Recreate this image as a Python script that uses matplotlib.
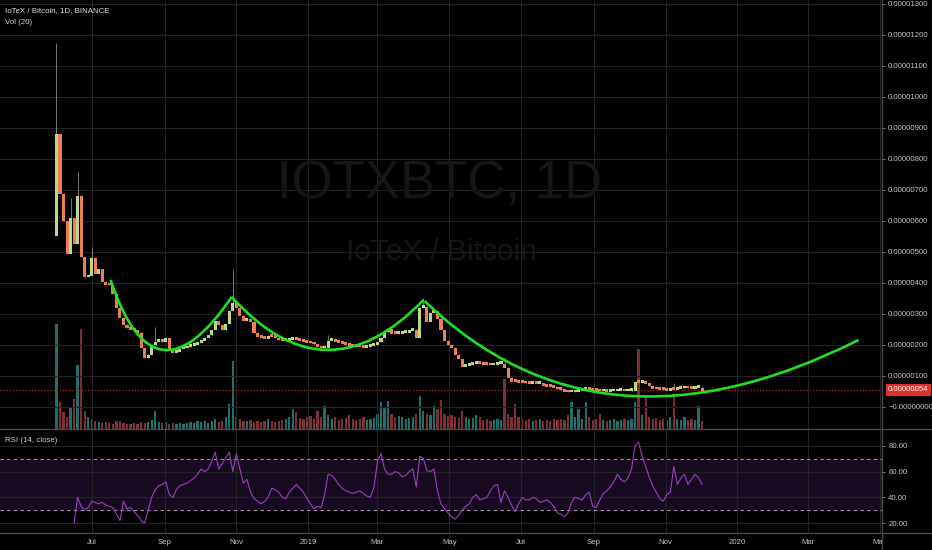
import matplotlib
matplotlib.use("Agg")
import numpy as np
import pandas as pd
import matplotlib.pyplot as plt
import matplotlib.dates as mdates
from matplotlib.path import Path
from matplotlib.patches import PathPatch
from matplotlib.lines import Line2D
from matplotlib.transforms import Bbox, TransformedBbox

plt.rcParams['font.family'] = ['Liberation Sans', 'DejaVu Sans']

# --- data: IOTX/BTC, 3-day buckets starting 2018-06-01, prices in satoshi ---
start_date = '2018-06-01'
first_open = 554
close = [882, 688, 600, 495, 610, 527, 683, 484, 419, 425,
         483, 430, 445, 405, 396, 393, 366, 320, 288, 266,
         255, 250, 247, 240, 190, 158, 170, 200, 212, 212,
         210, 224, 185, 175, 180, 188, 190, 194, 197, 202,
         208, 215, 224, 232, 250, 278, 265, 248, 270, 310,
         335, 320, 295, 280, 285, 275, 240, 228, 224, 221,
         230, 228, 224, 216, 214, 215, 218, 221, 217, 214,
         211, 209, 206, 203, 196, 190, 192, 215, 221, 212,
         208, 205, 201, 198, 196, 194, 193, 192, 194, 197,
         202, 210, 225, 242, 252, 238, 236, 237, 239, 240,
         246, 250, 225, 320, 325, 275, 305, 310, 285, 250,
         215, 200, 192, 170, 155, 130, 134, 136, 140, 143,
         141, 138, 136, 135, 136, 139, 140, 128, 96, 82,
         81, 80, 79, 77, 76, 76, 75, 75, 70, 67,
         65, 62, 58, 55, 50, 48, 48, 50, 54, 56,
         57, 55, 54, 52, 51, 51, 50, 51, 51, 52,
         52, 51, 52, 53, 82, 78, 85, 76, 68, 60,
         58, 57, 55, 54, 59, 56, 60, 61, 63, 61,
         60, 62, 63, 54]

spike_idx = [0, 4, 6, 10, 28, 50, 77, 104, 127, 165, 175]
spike_high = [1174, 673, 758, 516, 258, 441, 231, 350, 157, 90, 76]

volume = [105, 27, 17, 12, 22, 30, 64, 100, 18, 12,
          10, 8, 7, 6, 7, 6, 5, 8, 8, 6,
          5, 5, 6, 5, 7, 6, 7, 9, 18, 7,
          6, 7, 5, 6, 5, 6, 5, 6, 7, 6,
          8, 7, 8, 6, 8, 10, 7, 8, 12, 25,
          68, 12, 10, 8, 8, 9, 7, 8, 7, 8,
          10, 8, 7, 8, 9, 10, 12, 20, 17, 11,
          10, 12, 13, 10, 18, 12, 23, 14, 10, 12,
          9, 10, 11, 14, 10, 9, 10, 12, 9, 10,
          11, 15, 27, 22, 28, 15, 12, 13, 12, 10,
          11, 12, 15, 33, 18, 15, 14, 23, 20, 29,
          15, 13, 14, 12, 11, 18, 12, 10, 11, 14,
          12, 9, 10, 8, 9, 10, 9, 50, 15, 12,
          25, 12, 10, 9, 10, 8, 9, 10, 8, 9,
          8, 10, 9, 10, 9, 14, 27, 12, 20, 10,
          27, 12, 9, 10, 15, 9, 8, 9, 10, 8,
          9, 10, 9, 10, 27, 80, 14, 33, 12, 10,
          11, 9, 10, 9, 12, 35, 10, 9, 12, 9,
          10, 9, 23, 8]

rsi_offset = 5
rsi = [20, 40, 33, 30, 32, 37, 36, 35, 36, 34,
       33, 32, 27, 22, 37, 31, 32, 29, 26, 22,
       20, 30, 40, 46, 49, 50, 52, 42, 40, 46,
       49, 50, 51, 53, 55, 58, 62, 60, 62, 68,
       75, 62, 66, 71, 75, 60, 74, 62, 51, 54,
       44, 39, 37, 35, 37, 40, 47, 46, 44, 40,
       39, 44, 47, 50, 47, 44, 39, 35, 31, 33,
       32, 42, 58, 57, 54, 50, 47, 45, 44, 43,
       44, 45, 43, 41, 40, 48, 68, 74, 62, 58,
       58, 60, 59, 56, 57, 60, 62, 48, 72, 70,
       61, 60, 62, 45, 35, 31, 28, 25, 23, 26,
       30, 33, 35, 40, 42, 38, 39, 40, 45, 49,
       50, 36, 45, 40, 34, 29, 35, 40, 38, 38,
       40, 39, 36, 37, 38, 36, 33, 28, 27, 25,
       28, 36, 40, 39, 38, 42, 44, 33, 32, 38,
       43, 45, 48, 52, 58, 54, 52, 55, 62, 80,
       83, 72, 64, 56, 49, 44, 39, 37, 42, 44,
       64, 50, 55, 58, 50, 54, 58, 55, 50]

# drawn arcs: start, control, end (date, satoshi)
arc_start = [('2018-07-17', 409), ('2018-10-28', 354), ('2019-04-10', 341)]
arc_ctrl = [('2018-08-23', -15), ('2019-01-16', 17), ('2019-09-06', -204)]
arc_end = [('2018-10-28', 354), ('2019-04-09', 344), ('2020-04-13', 215)]

last_price = 54
price_ticks = list(range(0, 1400, 100))
rsi_ticks = [20, 40, 60, 80]

# --- build candles ---
dates = pd.date_range(start=start_date, periods=len(close), freq='3D')
x = mdates.date2num(dates.to_pydatetime())
opens = [first_open] + close[:-1]
body_top = [max(o, c) for o, c in zip(opens, close)]
body_bot = [min(o, c) for o, c in zip(opens, close)]
highs = list(body_top)
for i, h in zip(spike_idx, spike_high):
    highs[i] = h
up = [c >= o for o, c in zip(opens, close)]

BG = '#000000'
GRID = '#232323'
TXT = '#c4c4c4'
UP, DOWN = '#b9d985', '#ef7d57'

fig = plt.figure(figsize=(9.32, 5.5), dpi=100, facecolor=BG)
W, H = 932.0, 550.0
ax_vol = fig.add_axes([0, 1 - 429 / H, 882 / W, 429 / H])
ax = fig.add_axes([0, 1 - 429 / H, 882 / W, 429 / H], sharex=ax_vol)
ax_rsi = fig.add_axes([0, 1 - 533 / H, 882 / W, 103 / H], sharex=ax_vol)

xmin = mdates.date2num(pd.Timestamp('2018-04-14'))
xmax = mdates.date2num(pd.Timestamp('2020-05-03'))

# volume
ax_vol.set_facecolor(BG)
ax_vol.bar(x, volume, width=1.9, color=['#1f7068' if u else '#7e2e35' for u in up],
           align='center', linewidth=0)
ax_vol.set_ylim(0, max(volume) * 429 / 105)
ax_vol.set_xlim(xmin, xmax)
ax_vol.axis('off')

# price pane
ax.patch.set_visible(False)
ax.set_zorder(ax_vol.get_zorder() + 1)
ax.vlines(x, body_bot, highs, color='#8a8a8a', linewidth=0.6, zorder=2)
heights = [max(t - b, 9) for t, b in zip(body_top, body_bot)]
ax.bar(x, heights, bottom=[b - 2 for b in body_bot], width=2.6,
       color=[UP if u else DOWN for u in up], linewidth=0, zorder=3)

for s, c, e in zip(arc_start, arc_ctrl, arc_end):
    pts = [(mdates.date2num(pd.Timestamp(d)), v) for d, v in (s, c, e)]
    path = Path(pts, [Path.MOVETO, Path.CURVE3, Path.CURVE3])
    ax.add_patch(PathPatch(path, fill=False, edgecolor='#1fe01f', linewidth=1.9, zorder=5))

ax.axhline(last_price, color='#b3261e', linewidth=0.9, linestyle=(0, (1, 1.5)), zorder=1)

ax.set_ylim(-72, 1312)
ax.set_xlim(xmin, xmax)
ax.yaxis.tick_right()
ax.set_yticks(price_ticks)


def price_fmt(v, pos):
    s = f"{v / 1e8:.8f}"
    return "\u22120.00000000" if v == 0 else s


ax.yaxis.set_major_formatter(plt.FuncFormatter(price_fmt))
ax.tick_params(axis='y', colors='#777777', labelcolor=TXT, labelsize=5.6,
               length=2.5, width=0.7, pad=2)
ax.tick_params(axis='x', bottom=False, labelbottom=False)
ax.grid(True, color=GRID, linewidth=0.8)
for sp in ax.spines.values():
    sp.set_visible(False)

ax.annotate(f"{last_price / 1e8:.8f}", xy=(1.0, last_price), xycoords=('axes fraction', 'data'),
            xytext=(4.5, 0), textcoords='offset points', va='center', ha='left',
            fontsize=5.6, color='white',
            bbox=dict(boxstyle='square,pad=0.35', fc='#e0312b', ec='none'),
            annotation_clip=False)

# watermark and legend
fig.text(440 / W, 1 - 184 / H, 'IOTXBTC, 1D', fontsize=38, color='#161616',
         ha='center', va='center')
fig.text(441 / W, 1 - 252 / H, 'IoTeX / Bitcoin', fontsize=21.5, color='#161616',
         ha='center', va='center')
fig.text(5 / W, 1 - 11 / H, 'IoTeX / Bitcoin, 1D, BINANCE', fontsize=5.7, color='#e0e0e0',
         ha='left', va='center')
fig.text(5 / W, 1 - 23 / H, 'Vol (20)', fontsize=5.7, color='#d0d0d0', ha='left', va='center')

# RSI pane
ax_rsi.set_facecolor(BG)
ax_rsi.axhspan(30, 70, color='#170a20', zorder=0)
ax_rsi.axhline(70, color='#9a9a9a', linewidth=0.8, linestyle=(0, (3, 3)), zorder=2)
ax_rsi.axhline(30, color='#9a9a9a', linewidth=0.8, linestyle=(0, (3, 3)), zorder=2)
ax_rsi.plot(x[rsi_offset:], rsi, color='#9b3fbf', linewidth=0.8, zorder=3)
ax_rsi.set_ylim(12.3, 92.3)
ax_rsi.set_xlim(xmin, xmax)
ax_rsi.yaxis.tick_right()
ax_rsi.set_yticks(rsi_ticks)
ax_rsi.yaxis.set_major_formatter(plt.FuncFormatter(lambda v, p: f"{v:.2f}"))
ax_rsi.tick_params(axis='y', colors='#777777', labelcolor=TXT, labelsize=5.6,
                   length=2.5, width=0.7, pad=2)
ax_rsi.grid(True, color=GRID, linewidth=0.8)
for sp in ax_rsi.spines.values():
    sp.set_visible(False)
fig.text(5 / W, 1 - 440 / H, 'RSI (14, close)', fontsize=5.7, color='#d0d0d0',
         ha='left', va='center')

month_ticks = pd.to_datetime(['2018-07-01', '2018-09-01', '2018-11-01', '2019-01-01',
                              '2019-03-01', '2019-05-01', '2019-07-01', '2019-09-01',
                              '2019-11-01', '2020-01-01', '2020-03-01', '2020-05-01'])
month_labels = ['Jul', 'Sep', 'Nov', '2019', 'Mar', 'May', 'Jul', 'Sep', 'Nov',
                '2020', 'Mar', 'May']
ax_rsi.set_xticks(mdates.date2num(month_ticks.to_pydatetime()))
ax_rsi.set_xticklabels(month_labels)
ax_rsi.tick_params(axis='x', length=0, pad=4, labelsize=5.6, labelcolor=TXT)
clip = TransformedBbox(Bbox([[0, 0], [882 / W, 1]]), fig.transFigure)
for lbl in ax_rsi.get_xticklabels():
    lbl.set_clip_box(clip)
    lbl.set_clip_on(True)

# pane borders
for yy in (429, 533):
    fig.add_artist(Line2D([0, 1], [1 - yy / H, 1 - yy / H], transform=fig.transFigure,
                          color='#4a4a4a', linewidth=1.0))
fig.add_artist(Line2D([882 / W, 882 / W], [0, 1], transform=fig.transFigure,
                      color='#4a4a4a', linewidth=1.0))

fig.savefig('out.png', dpi=100, facecolor=BG)
